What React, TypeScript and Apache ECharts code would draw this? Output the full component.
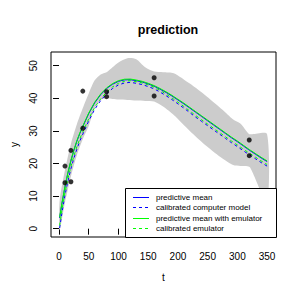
import React, { useEffect, useRef } from "react";
import * as echarts from "echarts";

const tGrid = [1, 5, 10, 15, 20, 25, 30, 35, 40, 50, 60, 70, 80, 90, 100, 110, 120, 130, 140, 150, 160, 170, 180, 190, 200, 210, 220, 230, 240, 250, 260, 270, 280, 290, 300, 310, 320, 330, 340, 350];
const predMeanEmu = [3.5, 8, 13, 17.3, 21, 24.2, 27, 29.4, 31.5, 35.5, 38.8, 41.3, 43.2, 44.5, 45.4, 45.85, 45.9, 45.6, 45.2, 44.6, 43.9, 43.0, 42.0, 40.9, 39.7, 38.5, 37.2, 35.9, 34.6, 33.3, 32.0, 30.7, 29.4, 28.1, 26.9, 25.6, 24.3, 23.1, 21.9, 20.8];
const predMean = [3.3, 7.8, 12.8, 17.1, 20.8, 24.0, 26.8, 29.2, 31.3, 35.3, 38.6, 41.1, 43.0, 44.3, 45.2, 45.65, 45.7, 45.4, 45.0, 44.4, 43.7, 42.8, 41.8, 40.7, 39.5, 38.3, 37.0, 35.7, 34.4, 33.1, 31.8, 30.5, 29.2, 27.9, 26.7, 25.4, 24.1, 22.9, 21.7, 20.6];
const calModel = [0.2, 5.0, 10.3, 14.6, 18.4, 21.6, 24.4, 26.9, 29.0, 33.1, 36.6, 39.3, 41.4, 43.0, 44.1, 44.7, 44.9, 44.6, 44.2, 43.6, 42.9, 41.9, 40.8, 39.6, 38.3, 37.0, 35.6, 34.2, 32.9, 31.6, 30.3, 29.0, 27.7, 26.4, 25.2, 23.9, 22.7, 21.5, 20.3, 19.2];
const calEmu = [1.0, 5.8, 11.0, 15.3, 19.1, 22.3, 25.1, 27.6, 29.7, 33.7, 37.2, 39.8, 41.9, 43.5, 44.6, 45.2, 45.4, 45.1, 44.7, 44.1, 43.4, 42.4, 41.3, 40.1, 38.8, 37.5, 36.1, 34.7, 33.4, 32.1, 30.8, 29.5, 28.2, 26.9, 25.7, 24.4, 23.2, 22.0, 20.8, 19.7];

const bandT = [1, 10, 20, 30, 40, 50, 60, 70, 80, 90, 100, 115, 130, 145, 160, 175, 193, 220, 249, 275, 293, 305, 320, 325, 350];
const bandUpper = [8.5, 18, 26, 32, 37, 41.5, 45.5, 47.3, 48, 49.5, 51, 52.3, 52, 49.5, 48.2, 48, 47.7, 44.5, 40.5, 36.5, 33.5, 32.3, 29, 29, 29];
const bandLower = [-0.5, 8, 16, 22.5, 27.5, 31.5, 37, 39.5, 40, 39.8, 39.6, 39.5, 39.3, 39.2, 39, 37.5, 34.9, 30, 25.2, 21.5, 19.5, 19.2, 19, 17.5, 8];

const pointsT = [10, 10, 20, 20, 40, 40, 80, 80, 160, 160, 320, 320];
const pointsY = [14.1, 19.2, 24.0, 14.4, 42.2, 30.8, 42.0, 40.5, 46.3, 40.7, 27.2, 22.4];

const xTicks = [0, 50, 100, 150, 200, 250, 300, 350];
const yTicks = [0, 10, 20, 30, 40, 50];

const legendNames = ["predictive mean", "calibrated computer model", "predictive mean with emulator", "calibrated emulator"];
const legendColors = ["#0000FF", "#0000FF", "#00FF00", "#00FF00"];
const legendDashed = [false, true, false, true];

const FONT = "'Liberation Sans', Arial, Helvetica, sans-serif";

export default function App() {
  const ref = useRef<HTMLDivElement>(null);
  useEffect(() => {
    if (!ref.current) return;
    const chart = echarts.init(ref.current, null, { renderer: "svg" });
    const pair = (xs: number[], ys: number[]) => xs.map((x, i) => [x, ys[i]]);
    const lineSeries = (name: string, ys: number[], color: string, dashed: boolean) => ({
      name,
      type: "line",
      data: pair(tGrid, ys),
      showSymbol: false,
      symbol: "none",
      smooth: false,
      lineStyle: { color, width: 1, type: dashed ? [3, 3] : "solid" },
      z: 3,
    });
    const legendGraphics: any[] = [
      {
        type: "rect",
        shape: { x: 125.5, y: 188.5, width: 151, height: 49 },
        style: { fill: "#fff", stroke: "#000", lineWidth: 1 },
        z: 100,
      },
    ];
    legendNames.forEach((n, i) => {
      const y = Math.round(197 + i * 10.3) + 0.5;
      legendGraphics.push({
        type: "line",
        shape: { x1: 133, y1: y, x2: 149, y2: y },
        style: { stroke: legendColors[i], lineWidth: 1, lineDash: legendDashed[i] ? [3, 3] : null },
        z: 101,
      });
      legendGraphics.push({
        type: "text",
        x: 156,
        y,
        style: { text: n, fontSize: 8, fontFamily: FONT, fill: "#000", verticalAlign: "middle", align: "left" },
        z: 101,
      });
    });

    chart.setOption({
      animation: false,
      title: {
        text: "prediction",
        left: 163,
        top: 18,
        textAlign: "center",
        textStyle: { fontSize: 12.5, fontWeight: "bold", fontFamily: FONT, color: "#000" },
      },
      grid: { left: 51, top: 52, width: 225, height: 185, show: true, borderColor: "#000", borderWidth: 1, backgroundColor: "transparent" },
      xAxis: {
        type: "value",
        min: -13.5,
        max: 365,
        name: "t",
        nameLocation: "middle",
        nameGap: 35,
        nameTextStyle: { fontSize: 10, fontFamily: FONT, color: "#000" },
        axisLine: { show: false },
        splitLine: { show: false },
        axisTick: { show: true, length: 6, customValues: xTicks, lineStyle: { color: "#000" } },
        axisLabel: { customValues: xTicks, fontSize: 10, fontFamily: FONT, color: "#000", margin: 14 },
      },
      yAxis: {
        type: "value",
        min: -2.55,
        max: 54.2,
        name: "y",
        nameLocation: "middle",
        nameGap: 32,
        nameRotate: 90,
        nameTextStyle: { fontSize: 10, fontFamily: FONT, color: "#000" },
        axisLine: { show: false },
        splitLine: { show: false },
        axisTick: { show: true, length: 6, customValues: yTicks, lineStyle: { color: "#000" } },
        axisLabel: { customValues: yTicks, fontSize: 10, fontFamily: FONT, color: "#000", margin: 13, rotate: 90 },
      },
      series: [
        {
          type: "custom",
          data: [0],
          z: 1,
          renderItem: (params: any, api: any) => {
            const pts: number[][] = [];
            bandT.forEach((t, i) => pts.push(api.coord([t, bandUpper[i]])));
            for (let i = bandT.length - 1; i >= 0; i--) pts.push(api.coord([bandT[i], bandLower[i]]));
            return {
              type: "polygon",
              shape: { points: pts, smooth: 0.25 },
              style: { fill: "#CCCCCC", stroke: "none" },
            };
          },
          clip: true,
        },
        lineSeries(legendNames[0], predMean, legendColors[0], false),
        lineSeries(legendNames[1], calModel, legendColors[1], true),
        lineSeries(legendNames[2], predMeanEmu, legendColors[2], false),
        lineSeries(legendNames[3], calEmu, legendColors[3], true),
        {
          type: "scatter",
          data: pair(pointsT, pointsY),
          symbol: "circle",
          symbolSize: 5,
          itemStyle: { color: "#000" },
          z: 5,
        },
      ],
      graphic: legendGraphics,
    });
    return () => chart.dispose();
  }, []);
  return <div ref={ref} style={{ position: "fixed", left: 0, top: 0, width: 302, height: 302, background: "#fff" }} />;
}
